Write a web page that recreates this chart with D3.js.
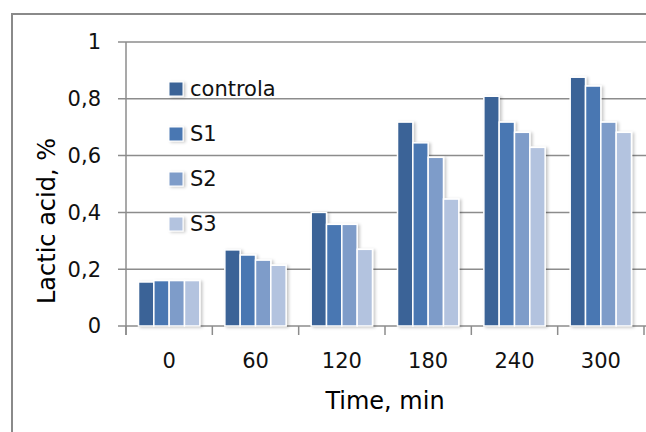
<!DOCTYPE html>
<html>
<head>
<meta charset="utf-8">
<script src="https://cdn.jsdelivr.net/npm/d3@7"></script>
<style>
  html, body { margin: 0; padding: 0; background: #fff; }
  svg { display: block; font-family: "DejaVu Sans", sans-serif; }
</style>
</head>
<body>
<svg id="chart" width="646" height="432"></svg>
<script>
// data
const times = ["0", "60", "120", "180", "240", "300"];
const seriesNames = ["controla", "S1", "S2", "S3"];
const controla = [0.155, 0.268, 0.40, 0.718, 0.809, 0.876];
const s1 = [0.16, 0.25, 0.358, 0.645, 0.718, 0.845];
const s2 = [0.16, 0.232, 0.358, 0.594, 0.682, 0.718];
const s3 = [0.16, 0.214, 0.27, 0.447, 0.629, 0.682];
const yTicks = [0, 0.2, 0.4, 0.6, 0.8, 1];
const colors = ["#3b6497", "#4877b2", "#7e9cc9", "#b3c3df"];

const allSeries = [controla, s1, s2, s3];

const svg = d3.select("#chart");
const W = 646, H = 432;
const plot = { left: 126, right: 644, top: 42, bottom: 326 };

// outer frame (runs off the right/bottom of the picture)
svg.append("rect")
  .attr("x", 12).attr("y", 14)
  .attr("width", 700).attr("height", 500)
  .attr("fill", "none")
  .attr("stroke", "#8a8a8a")
  .attr("stroke-width", 2);

const y = d3.scaleLinear().domain([0, 1]).range([plot.bottom, plot.top]);
const x0 = d3.scaleBand().domain(times).range([plot.left, plot.right]).padding(0);
const bw = x0.bandwidth();
const x1 = d3.scaleBand().domain(seriesNames).range([bw * 0.145, bw - bw * 0.145]).padding(0);
const color = d3.scaleOrdinal().domain(seriesNames).range(colors);

// soft shadow like the original
const defs = svg.append("defs");
const f = defs.append("filter").attr("id", "shadow")
  .attr("x", "-20%").attr("y", "-20%").attr("width", "150%").attr("height", "150%");
f.append("feDropShadow").attr("dx", 2).attr("dy", 1).attr("stdDeviation", 1.5)
  .attr("flood-color", "#000").attr("flood-opacity", 0.22);

// gridlines
svg.append("g")
  .selectAll("line")
  .data(yTicks)
  .join("line")
  .attr("x1", plot.left - 8).attr("x2", W)
  .attr("y1", d => y(d)).attr("y2", d => y(d))
  .attr("stroke", "#8c8c8c")
  .attr("stroke-width", 1.5);

// y axis line
svg.append("line")
  .attr("x1", plot.left).attr("x2", plot.left)
  .attr("y1", plot.top).attr("y2", plot.bottom + 9)
  .attr("stroke", "#8c8c8c").attr("stroke-width", 1.5);

// x axis ticks at category boundaries
const bounds = times.map(t => x0(t)).concat([x0(times[times.length - 1]) + bw]);
svg.append("g")
  .selectAll("line")
  .data(bounds)
  .join("line")
  .attr("x1", d => d).attr("x2", d => d)
  .attr("y1", plot.bottom).attr("y2", plot.bottom + 9)
  .attr("stroke", "#8c8c8c").attr("stroke-width", 1.5);

// bars
const groups = svg.append("g")
  .selectAll("g")
  .data(times)
  .join("g")
  .attr("transform", d => `translate(${x0(d)},0)`)
  .attr("filter", "url(#shadow)");

groups.selectAll("rect")
  .data((t, i) => seriesNames.map((s, j) => ({ s, v: allSeries[j][i] })))
  .join("rect")
  .attr("x", d => x1(d.s))
  .attr("width", x1.bandwidth())
  .attr("y", d => y(d.v))
  .attr("height", d => y(0) - y(d.v))
  .attr("fill", d => color(d.s))
  .attr("stroke", "#fff")
  .attr("stroke-width", 1.5);

// y tick labels
svg.append("g")
  .selectAll("text")
  .data(yTicks)
  .join("text")
  .attr("x", 101)
  .attr("y", d => y(d))
  .attr("dy", "0.35em")
  .attr("text-anchor", "end")
  .attr("font-size", 21)
  .attr("fill", "#111")
  .text(d => d === 0 || d === 1 ? String(d) : d3.format(".1f")(d).replace(".", ","));

// x tick labels
svg.append("g")
  .selectAll("text")
  .data(times)
  .join("text")
  .attr("x", d => x0(d) + bw / 2)
  .attr("y", 361)
  .attr("dy", "0.35em")
  .attr("text-anchor", "middle")
  .attr("font-size", 21)
  .attr("fill", "#111")
  .text(d => d);

// axis titles
svg.append("text")
  .attr("x", (plot.left + plot.right) / 2)
  .attr("y", 401)
  .attr("dy", "0.35em")
  .attr("text-anchor", "middle")
  .attr("font-size", 24)
  .attr("fill", "#000")
  .text("Time, min");

svg.append("text")
  .attr("transform", "translate(47,221) rotate(-90)")
  .attr("dy", "0.35em")
  .attr("text-anchor", "middle")
  .attr("font-size", 24)
  .attr("fill", "#000")
  .text("Lactic acid, %");

// legend
const legend = svg.append("g")
  .selectAll("g")
  .data(seriesNames)
  .join("g")
  .attr("transform", (d, i) => `translate(169,${89 + i * 45})`);

legend.append("rect")
  .attr("x", 0).attr("y", -7)
  .attr("width", 14).attr("height", 14)
  .attr("fill", d => color(d))
  .attr("stroke", "#fff").attr("stroke-width", 1)
  .attr("filter", "url(#shadow)");

legend.append("text")
  .attr("x", 21)
  .attr("dy", "0.35em")
  .attr("font-size", 21)
  .attr("fill", "#111")
  .text(d => d);
</script>
</body>
</html>
